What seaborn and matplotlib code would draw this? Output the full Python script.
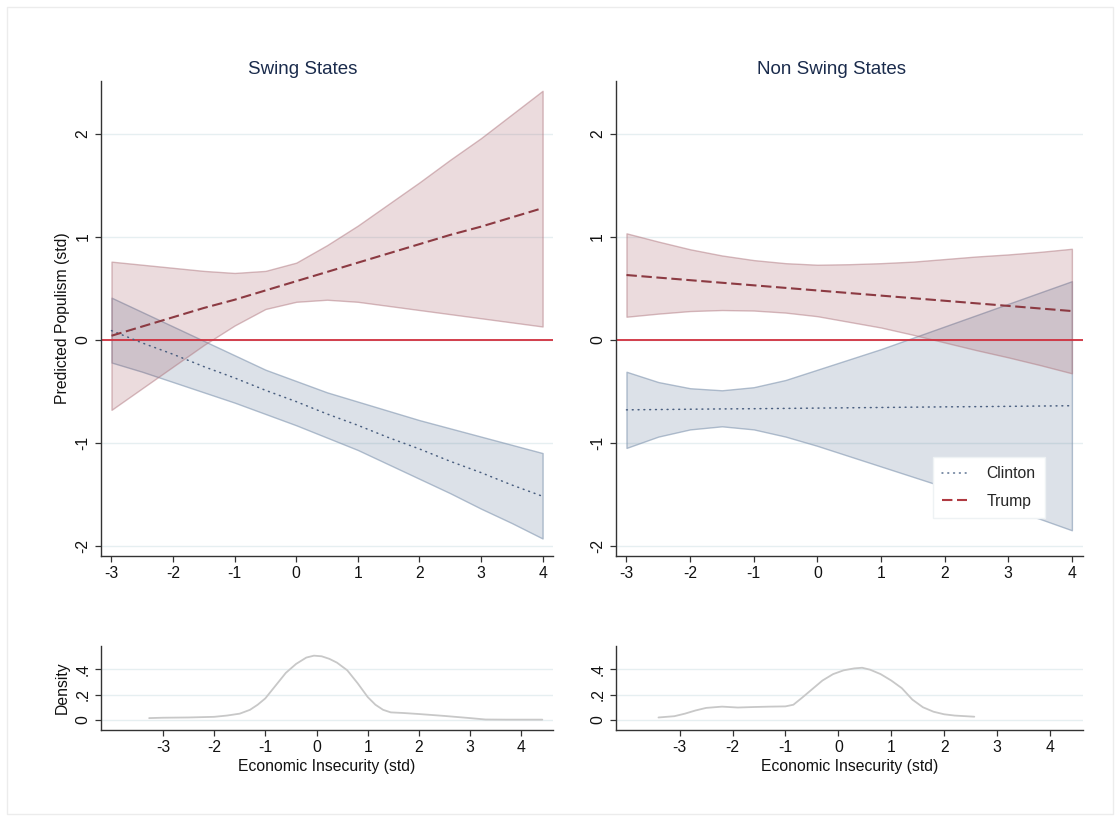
import matplotlib
matplotlib.use('Agg')
import matplotlib.pyplot as plt
import matplotlib.colors as mcolors
from matplotlib.lines import Line2D
from matplotlib.patches import Rectangle
import seaborn as sns

# ---- данные ----
x_grid = [-3, -2.5, -2, -1.5, -1, -0.5, 0, 0.5, 1, 1.5, 2, 2.5, 3, 3.5, 4]

# Swing States
swing_trump_fit = [0.04, 0.13, 0.22, 0.31, 0.39, 0.48, 0.57, 0.66, 0.75, 0.84, 0.93, 1.02, 1.10, 1.19, 1.28]
swing_trump_hi = [0.76, 0.73, 0.70, 0.67, 0.65, 0.67, 0.75, 0.92, 1.11, 1.32, 1.53, 1.75, 1.96, 2.19, 2.42]
swing_trump_lo = [-0.68, -0.47, -0.26, -0.05, 0.14, 0.30, 0.37, 0.39, 0.37, 0.33, 0.29, 0.25, 0.21, 0.17, 0.13]
swing_clinton_fit = [0.09, -0.03, -0.14, -0.26, -0.37, -0.49, -0.60, -0.72, -0.83, -0.95, -1.06, -1.18, -1.29, -1.41, -1.52]
swing_clinton_hi = [0.41, 0.27, 0.13, -0.01, -0.15, -0.29, -0.40, -0.51, -0.60, -0.69, -0.78, -0.86, -0.94, -1.02, -1.10]
swing_clinton_lo = [-0.22, -0.31, -0.41, -0.51, -0.61, -0.72, -0.83, -0.95, -1.07, -1.21, -1.35, -1.49, -1.64, -1.78, -1.93]

# Non Swing States
non_trump_fit = [0.63, 0.605, 0.58, 0.555, 0.53, 0.505, 0.48, 0.455, 0.43, 0.405, 0.38, 0.355, 0.33, 0.305, 0.28]
non_trump_hi = [1.035, 0.955, 0.88, 0.82, 0.775, 0.745, 0.73, 0.735, 0.745, 0.76, 0.785, 0.81, 0.83, 0.855, 0.885]
non_trump_lo = [0.225, 0.255, 0.28, 0.29, 0.285, 0.265, 0.23, 0.175, 0.12, 0.05, -0.025, -0.10, -0.17, -0.245, -0.325]
non_clinton_fit = [-0.68, -0.677, -0.674, -0.671, -0.669, -0.666, -0.663, -0.66, -0.657, -0.654, -0.651, -0.649, -0.646, -0.643, -0.64]
non_clinton_hi = [-0.31, -0.41, -0.47, -0.49, -0.46, -0.39, -0.29, -0.19, -0.09, 0.02, 0.13, 0.24, 0.35, 0.46, 0.57]
non_clinton_lo = [-1.05, -0.94, -0.87, -0.84, -0.87, -0.94, -1.03, -1.13, -1.23, -1.33, -1.43, -1.54, -1.64, -1.74, -1.85]

# плотности экономической незащищенности
swing_dens_x = [-3.27, -3.0, -2.5, -2.0, -1.75, -1.5, -1.3, -1.15, -1.0, -0.8, -0.6, -0.4, -0.2, -0.05, 0.1,
                0.25, 0.4, 0.6, 0.8, 1.0, 1.15, 1.3, 1.45, 1.7, 2.0, 2.5, 3.0, 3.3, 3.7, 4.41]
swing_dens_y = [0.015, 0.018, 0.02, 0.025, 0.035, 0.05, 0.08, 0.12, 0.17, 0.27, 0.37, 0.44, 0.49, 0.505, 0.50,
                0.48, 0.45, 0.39, 0.29, 0.18, 0.12, 0.08, 0.06, 0.055, 0.047, 0.032, 0.015, 0.004, 0.003, 0.003]
non_dens_x = [-3.4, -3.1, -2.9, -2.7, -2.5, -2.2, -1.9, -1.6, -1.3, -1.0, -0.85, -0.7, -0.5, -0.3, -0.1,
              0.1, 0.3, 0.45, 0.6, 0.8, 1.0, 1.2, 1.4, 1.6, 1.8, 2.0, 2.2, 2.57]
non_dens_y = [0.02, 0.03, 0.05, 0.075, 0.095, 0.105, 0.098, 0.102, 0.105, 0.107, 0.12, 0.17, 0.24, 0.31, 0.36,
              0.39, 0.405, 0.41, 0.395, 0.36, 0.31, 0.25, 0.16, 0.10, 0.065, 0.045, 0.035, 0.026]

panel_titles = ['Swing States', 'Non Swing States']
top_yticks = [-2, -1, 0, 1, 2]
top_xticks = [-3, -2, -1, 0, 1, 2, 3, 4]
dens_yticks = [0, 0.2, 0.4]
dens_yticklabels = ['0', '.2', '.4']

# ---- стиль ----
sns.set_theme(style='white')
plt.rcParams['font.family'] = ['Liberation Sans', 'DejaVu Sans']

trump_c = '#8c3a42'
clinton_c = '#4a5f80'
axis_c = '#333333'
grid_c = '#e6eff1'
fs = 11.3

fig = plt.figure(figsize=(11.2, 8.21), dpi=100)
fig.patches.append(Rectangle((0.006, 0.008), 0.988, 0.984, transform=fig.transFigure,
                             fill=False, edgecolor='#ececec', lw=1))

ax_top = [fig.add_axes([0.0902, 0.3228, 0.4036, 0.5785]),
          fig.add_axes([0.5497, 0.3228, 0.4170, 0.5785])]
ax_den = [fig.add_axes([0.0902, 0.1112, 0.4036, 0.1023]),
          fig.add_axes([0.5497, 0.1112, 0.4170, 0.1023])]
title_x = [0.447, 0.463]  # в Stata заголовок центрирован по всей подграфике


def style_axes(ax):
    for s in ['top', 'right']:
        ax.spines[s].set_visible(False)
    for s in ['left', 'bottom']:
        ax.spines[s].set_color(axis_c)
        ax.spines[s].set_linewidth(1)
    ax.yaxis.grid(True, color=grid_c, lw=1)
    ax.xaxis.grid(False)
    ax.set_axisbelow(True)
    ax.tick_params(axis='both', direction='out', length=4.5, width=0.9, color=axis_c,
                   labelsize=fs, labelcolor='#111111', pad=3, left=True, bottom=True)
    ax.tick_params(axis='y', labelrotation=90)
    for lab in ax.get_yticklabels():
        lab.set_va('center')


panels = [
    (swing_trump_fit, swing_trump_lo, swing_trump_hi, swing_clinton_fit, swing_clinton_lo, swing_clinton_hi),
    (non_trump_fit, non_trump_lo, non_trump_hi, non_clinton_fit, non_clinton_lo, non_clinton_hi),
]

for i, ax in enumerate(ax_top):
    t_fit, t_lo, t_hi, c_fit, c_lo, c_hi = panels[i]
    # доверительные интервалы
    ax.fill_between(x_grid, c_lo, c_hi, facecolor=mcolors.to_rgba('#3d5a80', 0.18),
                    edgecolor=mcolors.to_rgba('#8196b0', 0.6), lw=1)
    ax.fill_between(x_grid, t_lo, t_hi, facecolor=mcolors.to_rgba('#8c2d3a', 0.17),
                    edgecolor=mcolors.to_rgba('#b07880', 0.5), lw=1)
    ax.axhline(0, color='#d0303e', lw=1.3)
    sns.lineplot(x=x_grid, y=c_fit, ax=ax, color=clinton_c, lw=1.1,
                 linestyle=(0, (0.6, 3.2)), dash_capstyle='round', legend=False)
    sns.lineplot(x=x_grid, y=t_fit, ax=ax, color=trump_c, lw=1.5,
                 linestyle=(0, (5, 2.2)), legend=False)

    ax.set_xlim(-3.17, 4.17)
    ax.set_ylim(-2.1, 2.515)
    ax.set_xticks(top_xticks)
    ax.set_yticks(top_yticks)
    ax.set_xticklabels([str(v) for v in top_xticks])
    ax.set_yticklabels([str(v) for v in top_yticks])
    ax.set_xlabel('')
    ax.set_ylabel('')
    ax.set_title(panel_titles[i], fontsize=13.5, color='#1a2b4c', pad=5, x=title_x[i])
    style_axes(ax)

ax_top[0].set_ylabel('Predicted Populism (std)', fontsize=fs, color='#111111', labelpad=4)

# легенда
handles = [Line2D([], [], color='#5a7090', lw=1.1, linestyle=(0, (0.6, 3.2)), dash_capstyle='round'),
           Line2D([], [], color='#b03a42', lw=1.5, linestyle=(0, (5, 2.2)))]
leg = ax_top[1].legend(handles, ['Clinton', 'Trump'], loc='lower right', bbox_to_anchor=(0.919, 0.08),
                       frameon=True, fancybox=False, framealpha=1, edgecolor='#eef2f4',
                       fontsize=fs, handlelength=1.6, handletextpad=1.2, labelspacing=0.8,
                       borderpad=0.6, borderaxespad=0)
leg.get_frame().set_linewidth(1)

# плотности
dens = [(swing_dens_x, swing_dens_y), (non_dens_x, non_dens_y)]
for i, ax in enumerate(ax_den):
    dx, dy = dens[i]
    sns.lineplot(x=dx, y=dy, ax=ax, color='#c8c8c8', lw=1.3, legend=False)
    ax.set_xlim(-4.21, 4.62)
    ax.set_ylim(-0.076, 0.583)
    ax.set_xticks(top_xticks)
    ax.set_xticklabels([str(v) for v in top_xticks])
    ax.set_yticks(dens_yticks)
    ax.set_yticklabels(dens_yticklabels)
    ax.set_ylabel('')
    ax.set_xlabel('Economic Insecurity (std)', fontsize=fs, color='#111111', labelpad=3)
    style_axes(ax)

ax_den[0].set_ylabel('Density', fontsize=fs, color='#111111', labelpad=4)

plt.savefig('out.png', dpi=100)
plt.close()
